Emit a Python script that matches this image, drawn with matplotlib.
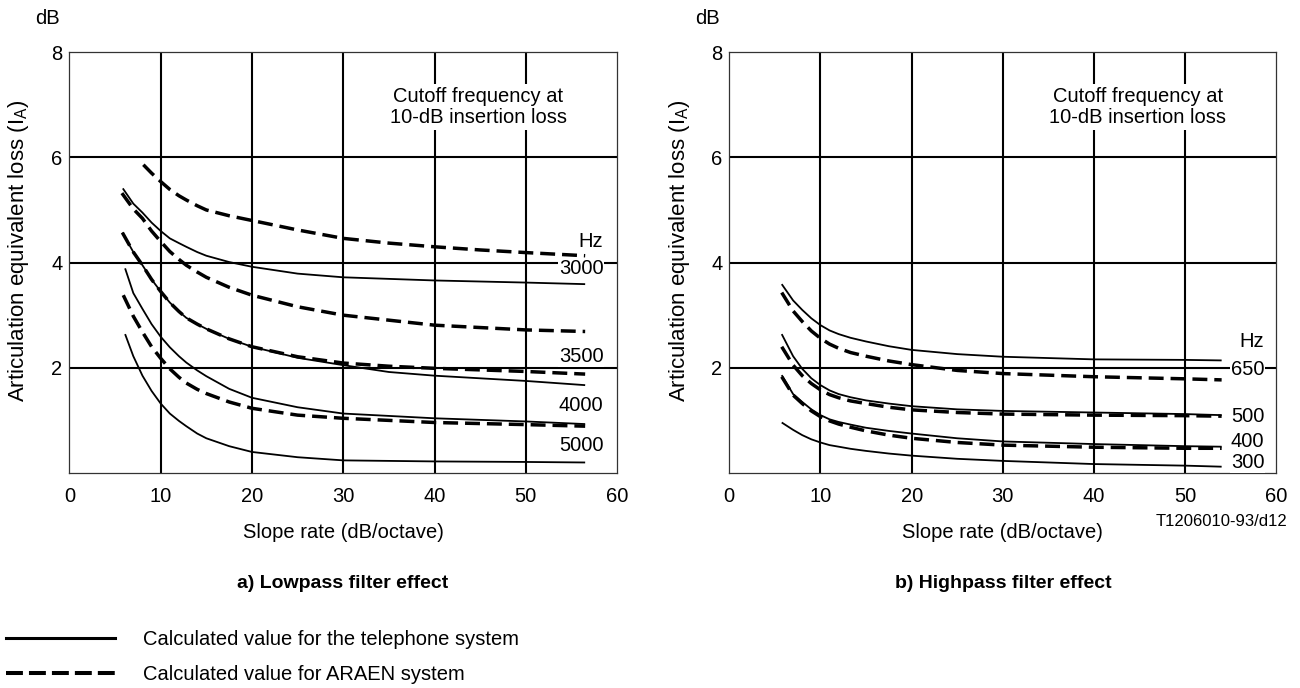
import matplotlib.pyplot as plt
from matplotlib.lines import Line2D

plt.rcParams['font.family'] = ['Liberation Sans', 'DejaVu Sans']

# a) lowpass filter effect: slope rate (dB/octave) vs articulation equivalent loss (dB)
lp_d1_x = [8.1, 9, 10, 11, 12, 12.8, 14, 15, 17.5, 20, 25, 30, 35, 40, 45, 50, 56.5]
lp_d1_y = [5.86, 5.70, 5.54, 5.39, 5.27, 5.19, 5.08, 5.00, 4.89, 4.80, 4.62, 4.46, 4.37, 4.30, 4.24, 4.19, 4.13]
lp_s1_x = [5.85, 7, 8, 9, 10, 11, 12, 12.8, 14, 15, 17.5, 20, 25, 30, 40, 50, 56.5]
lp_s1_y = [5.41, 5.12, 4.95, 4.76, 4.60, 4.46, 4.37, 4.30, 4.20, 4.13, 4.01, 3.92, 3.79, 3.72, 3.66, 3.62, 3.59]
lp_d2_x = [5.75, 7, 8, 9, 10, 11, 12, 12.8, 14, 15, 17.5, 20, 25, 30, 40, 50, 56.5]
lp_d2_y = [5.32, 5.02, 4.84, 4.60, 4.40, 4.21, 4.06, 3.95, 3.82, 3.72, 3.53, 3.38, 3.16, 3.00, 2.81, 2.72, 2.69]
lp_d3_x = [5.8, 7, 8, 9, 10, 11, 12, 12.8, 14, 15, 17.5, 20, 25, 30, 35, 40, 50, 56.5]
lp_d3_y = [4.57, 4.20, 3.95, 3.68, 3.45, 3.24, 3.07, 2.95, 2.83, 2.74, 2.55, 2.40, 2.21, 2.09, 2.03, 1.99, 1.93, 1.88]
lp_s2_x = [5.8, 7, 8, 9, 10, 11, 12, 12.8, 14, 15, 17.5, 20, 25, 30, 35, 40, 50, 56.5]
lp_s2_y = [4.57, 4.20, 3.95, 3.68, 3.45, 3.24, 3.07, 2.95, 2.83, 2.74, 2.55, 2.40, 2.19, 2.05, 1.92, 1.85, 1.75, 1.67]
lp_s3_x = [6.1, 7, 8, 9, 10, 11, 12, 12.8, 14, 15, 17.5, 20, 25, 30, 40, 50, 56.5]
lp_s3_y = [3.89, 3.42, 3.12, 2.83, 2.59, 2.39, 2.22, 2.10, 1.95, 1.84, 1.60, 1.43, 1.25, 1.13, 1.04, 0.98, 0.93]
lp_d4_x = [5.9, 7, 8, 9, 10, 11, 12, 12.8, 14, 15, 17.5, 20, 25, 30, 40, 50, 56.5]
lp_d4_y = [3.38, 2.98, 2.68, 2.40, 2.18, 1.98, 1.82, 1.71, 1.59, 1.51, 1.35, 1.23, 1.10, 1.04, 0.96, 0.92, 0.89]
lp_s4_x = [6.1, 7, 8, 9, 10, 11, 12, 12.8, 14, 15, 17.5, 20, 25, 30, 40, 50, 56.5]
lp_s4_y = [2.64, 2.22, 1.85, 1.56, 1.32, 1.13, 0.99, 0.89, 0.75, 0.66, 0.51, 0.40, 0.30, 0.24, 0.22, 0.21, 0.20]

lp_labels = ['Hz', '3000', '3500', '4000', '5000']
lp_label_y = [4.40, 3.89, 2.21, 1.28, 0.53]

# b) highpass filter effect
hp_x = [5.75, 7, 8, 9, 10, 11, 12, 13.3, 15, 17.5, 20, 25, 30, 40, 50, 54]
hp_s1_y = [3.59, 3.28, 3.10, 2.94, 2.81, 2.71, 2.64, 2.57, 2.50, 2.41, 2.34, 2.26, 2.21, 2.16, 2.15, 2.14]
hp_d1_y = [3.43, 3.08, 2.88, 2.70, 2.56, 2.45, 2.37, 2.29, 2.22, 2.13, 2.06, 1.95, 1.89, 1.83, 1.79, 1.77]
hp_s2_y = [2.64, 2.22, 1.98, 1.80, 1.67, 1.57, 1.50, 1.44, 1.38, 1.32, 1.27, 1.21, 1.18, 1.15, 1.12, 1.10]
hp_d2_y = [2.40, 2.05, 1.85, 1.70, 1.58, 1.49, 1.43, 1.37, 1.32, 1.25, 1.20, 1.15, 1.12, 1.10, 1.09, 1.08]
hp_s3_y = [1.86, 1.50, 1.35, 1.21, 1.10, 1.02, 0.97, 0.92, 0.86, 0.80, 0.75, 0.66, 0.60, 0.55, 0.51, 0.50]
hp_d3_y = [1.83, 1.48, 1.32, 1.18, 1.07, 0.99, 0.93, 0.87, 0.80, 0.72, 0.66, 0.58, 0.53, 0.49, 0.47, 0.47]
hp_s4_y = [0.96, 0.82, 0.72, 0.64, 0.58, 0.53, 0.50, 0.46, 0.42, 0.37, 0.33, 0.27, 0.23, 0.17, 0.14, 0.12]

hp_labels = ['Hz', '650', '500', '400', '300']
hp_label_y = [2.50, 1.97, 1.08, 0.60, 0.20]

x_ticks = [0, 10, 20, 30, 40, 50, 60]
y_ticks = [2, 4, 6, 8]

FS = 14.5
SOLID = dict(color='black', lw=1.3, solid_capstyle='butt', solid_joinstyle='round')
DASHED = dict(color='black', lw=2.5, dashes=(4.3, 2.0), dash_capstyle='butt')


def setup_axes(ax):
    ax.set_xlim(0, 60)
    ax.set_ylim(0, 8)
    ax.set_xticks(x_ticks)
    ax.set_yticks(y_ticks)
    ax.tick_params(length=0, labelsize=FS)
    ax.tick_params(axis='x', pad=10)
    ax.tick_params(axis='y', pad=5)
    for v in x_ticks[1:-1]:
        ax.axvline(v, color='black', lw=1.5, zorder=1)
    for v in y_ticks[:-1]:
        ax.axhline(v, color='black', lw=1.5, zorder=1)
    for sp in ax.spines.values():
        sp.set_linewidth(0.9)
        sp.set_color('#333333')
    ax.text(44.8, 6.96, 'Cutoff frequency at\n10-dB insertion loss', ha='center', va='center',
            fontsize=FS, linespacing=1.15, zorder=3,
            bbox=dict(facecolor='white', edgecolor='none', pad=2))


def freq_labels(ax, labels, ys, x):
    for lab, y in zip(labels, ys):
        ax.text(x, y, lab, ha='right', va='center', fontsize=FS, zorder=4,
                bbox=dict(facecolor='white', edgecolor='none', pad=0.5))


fig = plt.figure(figsize=(13, 6.88), dpi=100)
ax1 = fig.add_axes([0.0534, 0.3125, 0.4213, 0.6117])
ax2 = fig.add_axes([0.5610, 0.3125, 0.4208, 0.6117])

setup_axes(ax1)
ax1.plot(lp_d1_x, lp_d1_y, **DASHED)
ax1.plot(lp_s1_x, lp_s1_y, **SOLID)
ax1.plot(lp_d2_x, lp_d2_y, **DASHED)
ax1.plot(lp_s2_x, lp_s2_y, **SOLID)
ax1.plot(lp_d3_x, lp_d3_y, **DASHED)
ax1.plot(lp_s3_x, lp_s3_y, **SOLID)
ax1.plot(lp_d4_x, lp_d4_y, **DASHED)
ax1.plot(lp_s4_x, lp_s4_y, **SOLID)
freq_labels(ax1, lp_labels, lp_label_y, 58.5)

setup_axes(ax2)
for ys in [hp_s1_y, hp_s2_y, hp_s3_y, hp_s4_y]:
    ax2.plot(hp_x, ys, **SOLID)
for ys in [hp_d1_y, hp_d2_y, hp_d3_y]:
    ax2.plot(hp_x, ys, **DASHED)
freq_labels(ax2, hp_labels, hp_label_y, 58.7)

ylab = 'Articulation equivalent loss (I$_\\mathregular{A}$)'
for x0, ax in [(0, ax1), (660, ax2)]:
    fig.text((19 + x0) / 1300, 1 - 251 / 688, ylab, rotation=90, ha='center', va='center', fontsize=16)
    fig.text((47 + x0) / 1300, 1 - 18 / 688, 'dB', ha='center', va='center', fontsize=FS)
    ax.set_xlabel('Slope rate (dB/octave)', fontsize=FS, labelpad=12)

fig.text(343 / 1300, 1 - 583 / 688, 'a) Lowpass filter effect', ha='center', va='center',
         fontsize=14, fontweight='bold')
fig.text(1003 / 1300, 1 - 583 / 688, 'b) Highpass filter effect', ha='center', va='center',
         fontsize=14, fontweight='bold')
fig.text(1287 / 1300, 1 - 522 / 688, 'T1206010-93/d12', ha='right', va='center', fontsize=12)

handles = [Line2D([], [], color='black', lw=2.2),
           Line2D([], [], color='black', lw=2.9, dashes=(4.2, 1.5), dash_capstyle='butt')]
fig.legend(handles, ['Calculated value for the telephone system', 'Calculated value for ARAEN system'],
           loc='lower left', bbox_to_anchor=(6 / 1300, 4 / 688), frameon=False, fontsize=FS,
           handlelength=5.4, handletextpad=1.4, labelspacing=0.8, borderpad=0, borderaxespad=0)

fig.savefig('out.png', dpi=100)
